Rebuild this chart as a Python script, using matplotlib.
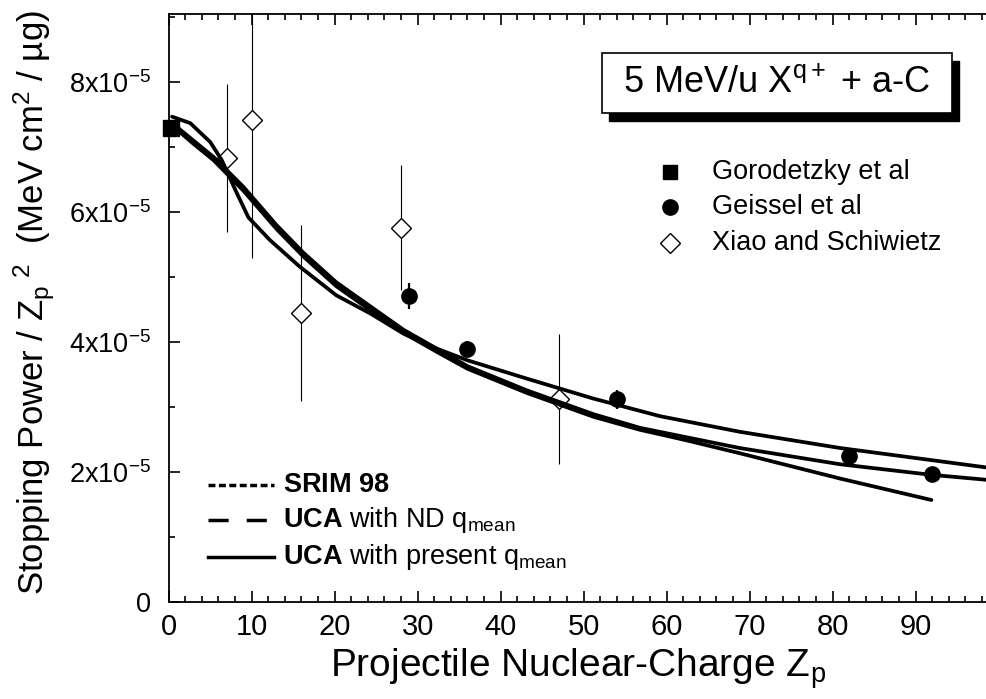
import matplotlib
matplotlib.use("Agg")
import matplotlib.pyplot as plt
from matplotlib.lines import Line2D
from matplotlib.patches import Rectangle
from matplotlib.ticker import MultipleLocator, FuncFormatter

plt.rcParams['font.family'] = 'Liberation Sans'
plt.rcParams['mathtext.fontset'] = 'custom'
plt.rcParams['mathtext.rm'] = 'Liberation Sans'
plt.rcParams['mathtext.bf'] = 'Liberation Sans:bold'
plt.rcParams['mathtext.it'] = 'Liberation Sans:italic'

# stopping power / Zp^2 in units of 1e-5 MeV cm^2 / ug
goro_z = [0.3]
goro_y = [7.29]

geissel_z = [29, 36, 54, 82, 92]
geissel_y = [4.71, 3.89, 3.12, 2.25, 1.97]
geissel_err = [0.2, 0.12, 0.15, 0.08, 0.06]

xiao_z = [7, 10, 16, 28, 47]
xiao_y = [6.84, 7.42, 4.45, 5.76, 3.12]
xiao_err = [1.14, 2.13, 1.36, 0.96, 1.0]

uca_present_z = [0.4, 2.6, 5.0, 6.4, 8.0, 9.6, 12.2, 15.8, 20.2, 24.3, 28.3,
                 32.3, 36, 43.1, 51.2, 59.2, 68.8, 80.9, 98.6]
uca_present_y = [7.47, 7.37, 7.08, 6.80, 6.35, 5.92, 5.57, 5.16, 4.72, 4.44, 4.13,
                 3.90, 3.72, 3.44, 3.13, 2.86, 2.62, 2.37, 2.07]

uca_nd_z = [1.0, 3, 5.4, 9.0, 13.0, 16.2, 20.2, 24.3, 28.3, 32.3, 36, 43.1,
            51.2, 56.8, 68.8, 80.9, 91.7, 98.6]
uca_nd_y = [7.31, 7.10, 6.85, 6.39, 5.80, 5.38, 4.92, 4.55, 4.19, 3.90, 3.63, 3.26,
            2.89, 2.68, 2.37, 2.12, 1.96, 1.88]

srim_z = [1.0, 3, 5.4, 9.0, 13.0, 16.2, 20.2, 24.3, 28.3, 32.3, 36, 43.1,
          51.2, 56.8, 62, 68.8, 80.9, 91.9]
srim_y = [7.27, 7.05, 6.80, 6.33, 5.74, 5.32, 4.86, 4.49, 4.14, 3.85, 3.59, 3.22,
          2.85, 2.65, 2.50, 2.29, 1.90, 1.57]

fig = plt.figure(figsize=(9.87, 6.99), dpi=100)
ax = fig.add_axes([168.7 / 987, 97 / 699, 818.3 / 987, 588 / 699])

ax.errorbar(xiao_z, xiao_y, yerr=xiao_err, fmt='D', ms=10, mfc='white', mec='k',
            mew=1.0, ecolor='k', elinewidth=0.8, capsize=0, zorder=3)

for z, y in [(srim_z, srim_y), (uca_nd_z, uca_nd_y), (uca_present_z, uca_present_y)]:
    ax.plot(z, y, color='k', lw=2.7, solid_capstyle='round', solid_joinstyle='round', zorder=4)

ax.errorbar(geissel_z, geissel_y, yerr=geissel_err, fmt='o', ms=11, color='k',
            elinewidth=1.6, capsize=0, zorder=5)
ax.plot(goro_z, goro_y, 's', ms=11, color='k', clip_on=False, zorder=5)

ax.set_xlim(0, 98.6)
ax.set_ylim(0, 9.05)
ax.xaxis.set_major_locator(MultipleLocator(10))
ax.xaxis.set_minor_locator(MultipleLocator(2))
ax.yaxis.set_major_locator(MultipleLocator(2))
ax.yaxis.set_minor_locator(MultipleLocator(1))
ax.xaxis.set_major_formatter(FuncFormatter(lambda v, p: '' if v > 95 else f'{v:.0f}'))
ax.yaxis.set_major_formatter(FuncFormatter(
    lambda v, p: '0' if v == 0 else f'{v:.0f}x10$^\\mathregular{{-5}}$'))
ax.tick_params(which='both', direction='in', top=True, right=False, width=1.2)
ax.tick_params(which='major', length=8)
ax.tick_params(which='minor', length=4)
ax.tick_params(axis='x', pad=8, labelsize=21)
ax.tick_params(axis='y', pad=13, labelsize=19.5)
ax.spines['right'].set_visible(False)
for s in ['left', 'bottom', 'top']:
    ax.spines[s].set_linewidth(1.3)

ax.set_xlabel('Projectile Nuclear-Charge Z$_\\mathregular{p}$', fontsize=28)
ax.xaxis.set_label_coords(0.5, -0.075)
ax.set_ylabel('Stopping Power / Z$_\\mathregular{p}$$^\\mathregular{\\ 2}$  (MeV cm$^\\mathregular{2}$ / µg)',
              fontsize=25)
ax.yaxis.set_label_coords(-0.137, 0.51)

# title box with drop shadow
bx, by, bw, bh = 601.7 / 987, 1 - 113.3 / 699, 350 / 987, 60 / 699
fig.patches.append(Rectangle((bx + 7 / 987, by - 8 / 699), bw, bh, transform=fig.transFigure,
                             facecolor='k', edgecolor='k', zorder=5))
fig.patches.append(Rectangle((bx, by), bw, bh, transform=fig.transFigure,
                             facecolor='white', edgecolor='k', lw=1.2, zorder=6))
fig.text(bx + bw / 2, by + bh / 2, '5 MeV/u X$^\\mathregular{q+}$ + a-C', fontsize=26,
         ha='center', va='center', zorder=7)

# data legend (upper right)
def ax_x(px):
    return (px - 168.7) / 818.3


def ax_y(py):
    return (602 - py) / 588


legend_markers = [('s', 'k', 'Gorodetzky et al', 10), ('o', 'k', 'Geissel et al', 11),
                  ('D', 'white', 'Xiao and Schiwietz', 10)]
for (m, fc, lab, ms), py in zip(legend_markers, [171.7, 206.7, 243.3]):
    ax.add_line(Line2D([ax_x(670)], [ax_y(py)], marker=m, ms=ms, mfc=fc, mec='k', mew=1.0,
                       ls='none', transform=ax.transAxes))
    ax.text(ax_x(712), ax_y(py), lab, fontsize=19.5, va='center', ha='left', transform=ax.transAxes)

# curve legend (lower left)
curve_styles = [((0, (2, 1)), r'$\mathbf{SRIM\ 98}$'),
                ((0, (5.8, 5.2)), r'$\mathbf{UCA}$ with ND q$_\mathregular{mean}$'),
                ('-', r'$\mathbf{UCA}$ with present q$_\mathregular{mean}$')]
for (ls, lab), py in zip(curve_styles, [485, 520, 556.7]):
    ax.add_line(Line2D([ax_x(208), ax_x(274)], [ax_y(py), ax_y(py)], color='k', lw=2.5, ls=ls,
                       dash_capstyle='butt', transform=ax.transAxes))
    ax.text(ax_x(283), ax_y(py), lab, fontsize=19.5, va='center', ha='left', transform=ax.transAxes)

fig.savefig('out.png', dpi=100)
